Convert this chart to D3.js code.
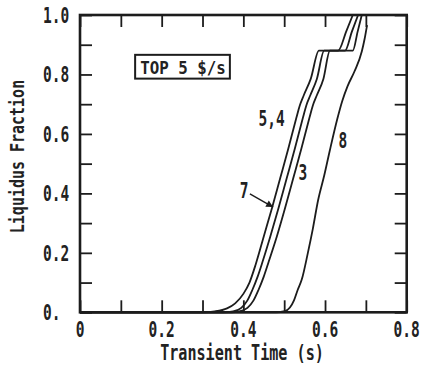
<!DOCTYPE html>
<html>
<head>
<meta charset="utf-8">
<script src="https://cdn.jsdelivr.net/npm/d3@7"></script>
<style>
  html, body { margin: 0; padding: 0; background: #fff; }
  svg { display: block; }
  text { font-family: "DejaVu Sans Mono", "Liberation Mono", monospace; fill: #222; font-weight: bold; }
</style>
</head>
<body>
<svg id="chart" width="423" height="372"></svg>
<script>
// ---- data (t in s, liquidus fraction) ----
const xTicks = [0, 0.1, 0.2, 0.3, 0.4, 0.5, 0.6, 0.7, 0.8];
const xTickLabels = [["0", 0], ["0.2", 0.2], ["0.4", 0.4], ["0.6", 0.6], ["0.8", 0.8]];
const yTicks = [0, 0.1, 0.2, 0.3, 0.4, 0.5, 0.6, 0.7, 0.8, 0.9, 1.0];
const yTickLabels = [["0.", 0], ["0.2", 0.2], ["0.4", 0.4], ["0.6", 0.6], ["0.8", 0.8], ["1.0", 1.0]];

const curve54 = [[0,0],[0.30,0],[0.33,0.003],[0.36,0.013],[0.38,0.03],[0.40,0.062],[0.415,0.1],[0.43,0.16],[0.45,0.255],[0.47,0.35],[0.49,0.45],[0.51,0.55],[0.53,0.655],[0.538,0.695],[0.548,0.73],[0.565,0.785],[0.585,0.88],[0.632,0.88],[0.652,0.945],[0.668,1.0]];
const curve7 = [[0,0],[0.35,0],[0.375,0.003],[0.395,0.015],[0.41,0.04],[0.422,0.075],[0.435,0.12],[0.447,0.17],[0.466,0.255],[0.486,0.35],[0.506,0.45],[0.526,0.55],[0.546,0.655],[0.554,0.695],[0.564,0.73],[0.58,0.785],[0.598,0.88],[0.649,0.88],[0.666,0.945],[0.681,1.0]];
const curve3 = [[0,0],[0.37,0],[0.39,0.003],[0.41,0.015],[0.425,0.04],[0.437,0.075],[0.45,0.12],[0.462,0.17],[0.482,0.255],[0.502,0.35],[0.522,0.45],[0.542,0.55],[0.562,0.655],[0.57,0.695],[0.58,0.73],[0.596,0.785],[0.612,0.88],[0.668,0.88],[0.68,0.945],[0.690,1.0]];
const curve8 = [[0,0],[0.48,0],[0.502,0.004],[0.514,0.016],[0.524,0.04],[0.533,0.075],[0.543,0.11],[0.558,0.2],[0.57,0.28],[0.583,0.377],[0.598,0.46],[0.612,0.546],[0.63,0.65],[0.642,0.71],[0.655,0.76],[0.672,0.81],[0.69,0.877],[0.697,0.92],[0.703,0.966]];
const series = [curve54, curve7, curve3, curve8];

const curveLabels = [["5,4", 0.469, 0.627], ["3", 0.546, 0.445], ["8", 0.644, 0.553], ["7", 0.402, 0.385]];
const arrow7 = [[0.416, 0.398], [0.473, 0.354]];
const boxText = "TOP 5 $/s";
const boxRange = [[0.135, 0.866], [0.367, 0.786]];
const xTitle = "Transient Time (s)";
const yTitle = "Liquidus Fraction";

// ---- drawing ----
const svg = d3.select("#chart");
const x = d3.scaleLinear().domain([0, 0.8]).range([80, 406.7]);
const y = d3.scaleLinear().domain([0, 1]).range([312.3, 15]);
const ink = "#1c1c1c";

// ticks (inward on all four sides)
const tl = 12;
svg.append("g").call(d3.axisBottom(x).tickValues(xTicks).tickSize(-tl).tickFormat(""))
  .attr("transform", `translate(0,${y(0)})`);
svg.append("g").call(d3.axisTop(x).tickValues(xTicks).tickSize(-tl).tickFormat(""))
  .attr("transform", `translate(0,${y(1)})`);
svg.append("g").call(d3.axisLeft(y).tickValues(yTicks).tickSize(-tl).tickFormat(""))
  .attr("transform", `translate(${x(0)},0)`);
svg.append("g").call(d3.axisRight(y).tickValues(yTicks).tickSize(-tl).tickFormat(""))
  .attr("transform", `translate(${x(0.8)},0)`);
svg.selectAll(".domain").remove();
svg.selectAll(".tick line").attr("stroke", ink).attr("stroke-width", 1.8);

// frame
svg.append("rect")
  .attr("x", x(0)).attr("y", y(1))
  .attr("width", x(0.8) - x(0)).attr("height", y(0) - y(1))
  .attr("fill", "none").attr("stroke", ink).attr("stroke-width", 2.6);

// text helper (condensed lettering)
function condText(g, str, tx, ty, size, sx, anchor) {
  return g.append("text")
    .attr("transform", `translate(${tx},${ty}) scale(${sx},1)`)
    .attr("text-anchor", anchor)
    .attr("font-size", size)
    .text(str);
}
xTickLabels.forEach(([s, v]) => condText(svg, s, x(v), 336.5, 22, 0.66, "middle"));
yTickLabels.forEach(([s, v]) => condText(svg, s, 43, y(v) + 8, 22, 0.66, "start"));

// axis titles
condText(svg, xTitle, 242, 360, 21, 0.72, "middle");
svg.append("text")
  .attr("transform", `translate(23.5,156.5) rotate(-90) scale(0.75,1)`)
  .attr("text-anchor", "middle").attr("font-size", 20).text(yTitle);

// curves
const line = d3.line().x(d => x(d[0])).y(d => y(d[1])).curve(d3.curveMonotoneX);
svg.append("g").selectAll("path").data(series).join("path")
  .attr("d", line).attr("fill", "none").attr("stroke", ink)
  .attr("stroke-width", 1.8).attr("stroke-linejoin", "round");

// curve labels
curveLabels.forEach(([s, t, f]) => condText(svg, s, x(t), y(f), 22, 0.66, "middle"));

// arrow for 7
svg.append("defs").append("marker")
  .attr("id", "ah").attr("viewBox", "0 0 10 10").attr("refX", 10).attr("refY", 5)
  .attr("markerWidth", 9).attr("markerHeight", 7).attr("markerUnits", "userSpaceOnUse")
  .attr("orient", "auto")
  .append("path").attr("d", "M0,0 L10,5 L0,10 Z").attr("fill", ink);
svg.append("line")
  .attr("x1", x(arrow7[0][0])).attr("y1", y(arrow7[0][1]))
  .attr("x2", x(arrow7[1][0])).attr("y2", y(arrow7[1][1]))
  .attr("stroke", ink).attr("stroke-width", 1.4).attr("marker-end", "url(#ah)");

// legend box
svg.append("rect")
  .attr("x", x(boxRange[0][0])).attr("y", y(boxRange[0][1]))
  .attr("width", x(boxRange[1][0]) - x(boxRange[0][0]))
  .attr("height", y(boxRange[1][1]) - y(boxRange[0][1]))
  .attr("fill", "none").attr("stroke", ink).attr("stroke-width", 2);
condText(svg, boxText, (x(boxRange[0][0]) + x(boxRange[1][0])) / 2 + 0.5, y(boxRange[1][1]) - 4.5, 17, 0.93, "middle");
</script>
</body>
</html>
